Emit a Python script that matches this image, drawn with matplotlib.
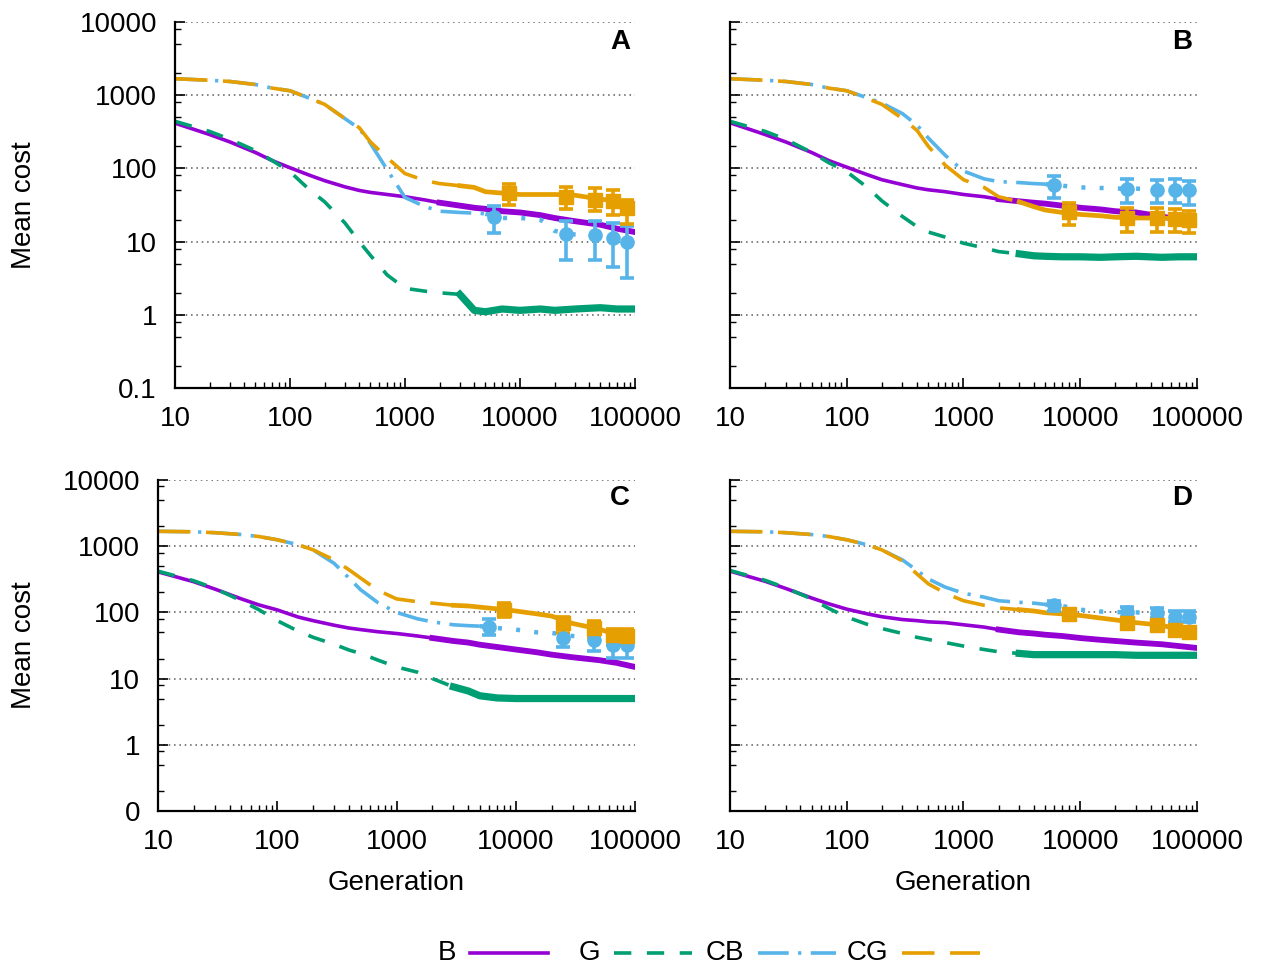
import numpy as np
import matplotlib; matplotlib.use('Agg')
import matplotlib.pyplot as plt
from matplotlib.lines import Line2D
from matplotlib.ticker import LogLocator, FixedLocator, FixedFormatter, NullFormatter

plt.rcParams['font.family'] = ['Liberation Sans', 'DejaVu Sans']
plt.rcParams['font.size'] = 20

# --- values (mean cost vs generation, log-log) ---
GEN = [10, 20, 30, 50, 70, 100, 150, 200, 300, 400, 500, 700, 1000, 1500, 2000,
       3000, 4000, 5000, 7000, 10000, 15000, 20000, 30000, 50000, 70000, 100000]

PA_B  = [415, 290, 230, 165, 128, 102, 80, 68, 56, 50, 47, 44, 41, 37, 34, 31, 29, 28, 26, 25, 23, 21, 19, 17, 15, 13.5]
PA_G  = [440, 320, 250, 175, 128, 90, 50, 35, 18, 10, 6.5, 3.5, 2.3, 2.1, 2.0, 1.9, 1.15, 1.1, 1.2, 1.15, 1.2, 1.15, 1.2, 1.25, 1.2, 1.2]
PA_CB = [1680, 1600, 1540, 1400, 1250, 1150, 900, 750, 480, 350, 220, 96, 40, 30, 26, 25, 24.5, 24, 21, 21, 20, 14, 12.5, 12, 11, 10]
PA_CG = [1680, 1600, 1540, 1400, 1250, 1150, 900, 750, 480, 360, 230, 140, 85, 68, 62, 58, 55, 48, 46, 44, 44, 44, 43, 38, 36, 27]

PB_B  = [420, 290, 230, 165, 128, 104, 82, 70, 60, 54, 51, 48, 44, 41, 38, 35.5, 34, 33, 31, 29, 27.5, 26, 25, 22, 20, 17.5]
PB_G  = [440, 320, 250, 165, 120, 90, 55, 36, 22, 16, 13.5, 11.5, 9.5, 8.2, 7.3, 6.8, 6.4, 6.3, 6.2, 6.2, 6.1, 6.2, 6.3, 6.1, 6.2, 6.2]
PB_CB = [1680, 1600, 1540, 1400, 1250, 1150, 920, 780, 560, 390, 260, 150, 92, 72, 66, 64, 62, 61, 58, 55, 54, 53, 53, 51, 51, 50]
PB_CG = [1680, 1600, 1540, 1400, 1250, 1150, 900, 750, 480, 330, 200, 110, 70, 55, 41, 35, 30, 27, 25, 23.5, 22.5, 21.5, 21, 21, 20.5, 20]

PC_B  = [410, 290, 225, 160, 130, 109, 85, 75, 64, 58, 55, 51, 48, 44, 41, 37, 35, 32.5, 30, 27.5, 25, 23, 21, 19, 17.3, 15]
PC_G  = [420, 300, 230, 150, 110, 75, 52, 42, 33, 27, 24, 19, 15, 12.5, 10, 7.5, 6.5, 5.5, 5.1, 5.0, 5.0, 5.0, 5.0, 5.0, 5.0, 5.0]
PC_CB = [1680, 1650, 1600, 1500, 1400, 1250, 1050, 880, 550, 330, 220, 140, 100, 80, 72, 65, 63, 62, 58, 55, 50, 49, 44, 40, 35, 32]
PC_CG = [1680, 1650, 1600, 1500, 1400, 1250, 1050, 880, 620, 440, 330, 215, 160, 145, 138, 128, 125, 120, 113, 105, 95, 88, 68, 56, 46, 43]

PD_B  = [420, 295, 230, 165, 135, 112, 95, 86, 78, 75, 72, 70, 65, 60, 55, 50, 48, 46, 44, 41, 38.5, 37, 35, 33, 31, 29]
PD_G  = [430, 305, 235, 160, 115, 85, 66, 57, 48, 42, 39, 35, 31, 27.5, 25.4, 24, 23, 23, 23, 23, 23, 23, 22.5, 22.5, 22.5, 22.5]
PD_CB = [1680, 1650, 1600, 1500, 1400, 1250, 1050, 880, 620, 430, 320, 240, 195, 170, 150, 142, 138, 132, 125, 110, 103, 101, 100, 97, 88, 86]
PD_CG = [1680, 1650, 1600, 1500, 1400, 1250, 1050, 880, 600, 380, 270, 195, 150, 128, 117, 110, 105, 99, 95, 90, 82, 77, 70, 64, 55, 50]

# error-bar samples (mean, low, high)
ERR_GEN_CB = [6000, 25000, 45000, 65000, 85000]
ERR_GEN_CG = [8000, 25000, 45000, 65000, 85000]
PA_CB_M, PA_CB_LO, PA_CB_HI = [21.8, 12.8, 12.4, 11.3, 9.9], [13.2, 5.6, 5.6, 4.5, 3.2], [31, 19.2, 19.2, 18, 16.4]
PA_CG_M, PA_CG_LO, PA_CG_HI = [46, 41, 37, 36, 29], [32, 28, 26, 23, 17.5], [62, 56, 54, 51, 37]
PB_CB_M, PB_CB_LO, PB_CB_HI = [60, 53, 50, 51, 50], [40, 34, 34, 34, 32], [79, 72, 70, 72, 67]
PB_CG_M, PB_CG_LO, PB_CG_HI = [25, 21, 21, 20.5, 20], [17, 13.7, 13.7, 13.5, 13.2], [34, 29, 29, 28, 26.5]
PC_CB_M, PC_CB_LO, PC_CB_HI = [61, 41, 38.5, 32.5, 32.5], [46, 30, 26, 20.5, 20.5], [80, 58, 46, 38.5, 38.5]
PC_CG_M, PC_CG_LO, PC_CG_HI = [110, 70, 58, 46, 44], [86, 49, 41, 32, 32], [140, 86, 75, 56, 56]
PD_CB_M, PD_CB_LO, PD_CB_HI = [130, 101, 98, 86, 86], [106, 86, 82, 72, 72], [150, 121, 117, 104, 104]
PD_CG_M, PD_CG_LO, PD_CG_HI = [95, 70, 65, 55, 51], [77, 58, 55, 46, 42], [113, 83, 78, 64, 60]

X_TICKS = [10, 100, 1000, 10000, 100000]
X_LABELS = ['10', '100', '1000', '10000', '100000']
Y_TICKS = [0.1, 1, 10, 100, 1000, 10000]
Y_LABELS_TOP = ['0.1', '1', '10', '100', '1000', '10000']
Y_LABELS_BOT = ['0', '1', '10', '100', '1000', '10000']
SERIES = ['B', 'G', 'CB', 'CG']

C_B, C_G, C_CB, C_CG = '#9400D3', '#009E73', '#56B4E9', '#E69F00'
LW = 2.6
DS_G = (0, (4.8, 4.3))
DS_CB = (0, (8.5, 2.6, 0.9, 2.6))
DS_CG = (0, (9, 4.3))
DS_DOT = (0, (0.9, 3.2))
TAIL_LW = 5.2

fig = plt.figure(figsize=(12.62, 9.69), dpi=100)
W, H = 1262, 969
def box(l, r, t, b):
    return [l / W, 1 - b / H, (r - l) / W, (b - t) / H]

panels = [
    ('A', box(175, 635, 22, 388), (PA_B, PA_G, PA_CB, PA_CG),
     (PA_CB_M, PA_CB_LO, PA_CB_HI), (PA_CG_M, PA_CG_LO, PA_CG_HI), Y_LABELS_TOP),
    ('B', box(730, 1197, 22, 388), (PB_B, PB_G, PB_CB, PB_CG),
     (PB_CB_M, PB_CB_LO, PB_CB_HI), (PB_CG_M, PB_CG_LO, PB_CG_HI), None),
    ('C', box(158, 635, 480, 811), (PC_B, PC_G, PC_CB, PC_CG),
     (PC_CB_M, PC_CB_LO, PC_CB_HI), (PC_CG_M, PC_CG_LO, PC_CG_HI), Y_LABELS_BOT),
    ('D', box(730, 1197, 480, 811), (PD_B, PD_G, PD_CB, PD_CG),
     (PD_CB_M, PD_CB_LO, PD_CB_HI), (PD_CG_M, PD_CG_LO, PD_CG_HI), None),
]

def split(ax, vals, color, head_ls, tail_ls, tail_from, tail_lw):
    i = GEN.index(tail_from)
    ax.plot(GEN[:i + 1], vals[:i + 1], color=color, ls=head_ls, lw=LW)
    ax.plot(GEN[i:], vals[i:], color=color, ls=tail_ls, lw=tail_lw)

def errs(ax, gen, m, lo, hi, color, marker):
    m = np.array(m); lo = np.array(lo); hi = np.array(hi)
    ax.errorbar(gen, m, yerr=[m - lo, hi - m], fmt=marker, color=color, ms=9.5,
                elinewidth=2.6, capsize=5, capthick=2.6, zorder=5)

for name, pos, (sb, sg, scb, scg), ecb, ecg, ylabs in panels:
    ax = fig.add_axes(pos)
    ax.set_xscale('log'); ax.set_yscale('log')
    ax.set_xlim(10, 100000); ax.set_ylim(0.1, 10000)
    split(ax, sb, C_B, '-', '-', 2000, TAIL_LW - 1)
    split(ax, sg, C_G, DS_G, '-', 3000, TAIL_LW)
    split(ax, scb, C_CB, DS_CB, DS_DOT, 5000, LW + 0.6)
    split(ax, scg, C_CG, DS_CG, '-', 3000, LW + 0.8)
    errs(ax, ERR_GEN_CB, *ecb, C_CB, 'o')
    errs(ax, ERR_GEN_CG, *ecg, C_CG, 's')

    for s in ('top', 'right'):
        ax.spines[s].set_visible(False)
    for s in ('left', 'bottom'):
        ax.spines[s].set_linewidth(1.6)
    ax.xaxis.set_major_locator(FixedLocator(X_TICKS))
    ax.xaxis.set_major_formatter(FixedFormatter(X_LABELS))
    ax.xaxis.set_minor_locator(LogLocator(base=10, subs=np.arange(2, 10)))
    ax.xaxis.set_minor_formatter(NullFormatter())
    ax.yaxis.set_major_locator(FixedLocator(Y_TICKS))
    ax.yaxis.set_minor_locator(LogLocator(base=10, subs=(2, 5, 8)))
    ax.yaxis.set_minor_formatter(NullFormatter())
    if ylabs is None:
        ax.yaxis.set_major_formatter(NullFormatter())
    else:
        ax.yaxis.set_major_formatter(FixedFormatter(ylabs))
    ax.tick_params(which='major', direction='in', length=7, width=1.2, pad=13,
                   top=False, right=False, labelsize=20)
    ax.tick_params(which='minor', direction='in', length=4, width=1.0,
                   top=False, right=False)
    ax.grid(axis='y', which='major', ls=(0, (1, 2.5)), color='0.35', lw=1.1)
    ax.text(0.99, 0.945, name, transform=ax.transAxes, ha='right', va='center',
            fontsize=20, fontweight='bold')

fig.text(24 / W, 1 - 205 / H, 'Mean cost', rotation=90, ha='center', va='center', fontsize=20)
fig.text(24 / W, 1 - 645 / H, 'Mean cost', rotation=90, ha='center', va='center', fontsize=20)
fig.text(396 / W, 1 - 883 / H, 'Generation', ha='center', va='center', fontsize=20)
fig.text(963 / W, 1 - 883 / H, 'Generation', ha='center', va='center', fontsize=20)

# gnuplot-style key: right-justified label followed by the line sample
key_styles = [(C_B, '-'), (C_G, DS_G), (C_CB, DS_CB), (C_CG, DS_CG)]
ky = 1 - 953 / H
for i, (lab, (col, ls)) in enumerate(zip(SERIES, key_styles)):
    xe = 456 + 144 * i
    fig.text(xe / W, ky, lab, ha='right', va='center', fontsize=20)
    fig.add_artist(Line2D([(xe + 14) / W, (xe + 92) / W], [ky, ky], color=col, ls=ls,
                          lw=LW, transform=fig.transFigure))

fig.savefig('out.png', dpi=100)
